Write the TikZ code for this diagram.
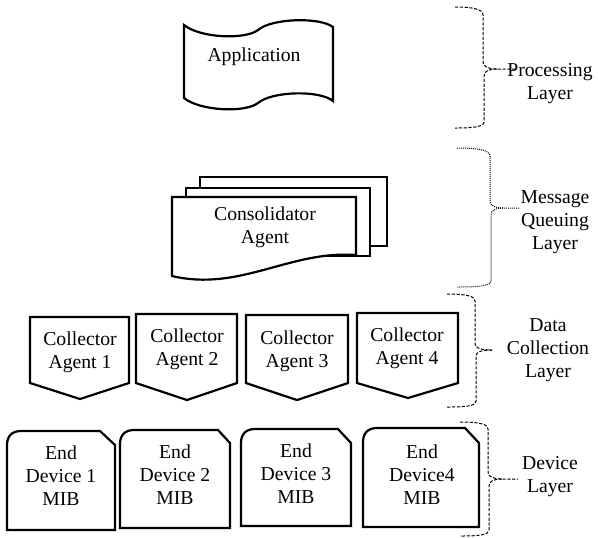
\documentclass[tikz,border=0pt]{standalone}
\usepackage{fontspec}
\setmainfont{Liberation Serif}
\tikzset{
  font={\fontsize{9.85pt}{11.5pt}\selectfont}}
\tikzset{
  shapeline/.style={draw=black, line width=1.1pt, fill=white},
  bracedash/.style={draw=black, line width=0.5pt, dash pattern=on 1.6pt off 0.8pt},
  bracedot/.style={draw=black, line width=0.5pt, dash pattern=on 0.5pt off 0.5pt},
  boxtext/.style={align=center, inner sep=0pt}}

\begin{document}
\begin{tikzpicture}[x=0.5pt, y=-0.5pt]
\useasboundingbox (0,0) rectangle (598,537);
%% Processing layer: the application as a waving tape
    \draw[shapeline] (184,25) .. controls (200,38) and (245,40) .. (258,30)
        .. controls (272,18) and (320,17) .. (333,27) -- (333,101)
        .. controls (320,90) and (272,91) .. (258,103)
        .. controls (245,113) and (200,111) .. (184,98) -- cycle;
    \node[boxtext] (app) at (254,57) {Application};
%% Message queuing layer: a stack of three documents, back one first
    \draw[shapeline] (200,177) rectangle (387,246);
    \draw[shapeline] (186,188) rectangle (370,256);
    \draw[shapeline] (172,197) -- (356,197) -- (356,255)
        .. controls (290,250) and (240,292) .. (172,276) -- cycle;
    \node[boxtext] (consolidator) at (265,227) {Consolidator\\Agent};
%% Data collection layer: off-page connectors pointing down
    \draw[shapeline] (30,317) -- (129,317) -- (129,383) -- (80,399) -- (30,383) -- cycle;
    \draw[shapeline] (136,314) -- (237,314) -- (237,383) -- (187,400) -- (136,383) -- cycle;
    \draw[shapeline] (246,315) -- (348,315) -- (348,383) -- (297,400) -- (246,383) -- cycle;
    \draw[shapeline] (357,313) -- (458,313) -- (458,383) -- (408,398) -- (357,383) -- cycle;
    \node[boxtext] (coll1) at (80,352) {Collector\\Agent 1};
    \node[boxtext] (coll2) at (187,349) {Collector\\Agent 2};
    \node[boxtext] (coll3) at (297,351) {Collector\\Agent 3};
    \node[boxtext] (coll4) at (407,348) {Collector\\Agent 4};
%% Device layer: punched cards, rounded on the left and cut on the right
    \draw[shapeline] (7,530) -- (7,445) .. controls (7,436) and (12,431) .. (21,431)
        -- (100,431) -- (115,445) -- (115,530) -- cycle;
    \draw[shapeline] (120,528) -- (120,444) .. controls (120,435) and (125,430) .. (134,430)
        -- (218,430) -- (230,443) -- (230,528) -- cycle;
    \draw[shapeline] (241,526) -- (241,443) .. controls (241,434) and (246,429) .. (255,429)
        -- (338,429) -- (351,443) -- (351,526) -- cycle;
    \draw[shapeline] (363,527) -- (363,442) .. controls (363,433) and (368,428) .. (377,428)
        -- (465,428) -- (479,443) -- (479,527) -- cycle;
    \node[boxtext] (dev1) at (61,476) {End\\Device 1\\MIB};
    \node[boxtext] (dev2) at (175,475) {End\\Device 2\\MIB};
    \node[boxtext] (dev3) at (296,474) {End\\Device 3\\MIB};
    \node[boxtext] (dev4) at (422,475) {End\\Device4\\MIB};
%% Braces that group each layer, with the layer names beside them
    \draw[bracedash] (455,7) .. controls (472,7) and (483,9) .. (483,15) -- (483,62)
        .. controls (483,67) and (489,69) .. (497,69) -- (515,69);
    \draw[bracedash] (497,69) .. controls (489,69) and (484,71) .. (484,76) -- (484,122)
        .. controls (484,127) and (472,128) .. (455,128);
    \draw[bracedot] (457,148) .. controls (478,148) and (490,150) .. (490,156) -- (490,201)
        .. controls (490,206) and (496,208) .. (503,208) -- (520,208);
    \draw[bracedot] (503,208) .. controls (496,208) and (491,210) .. (491,215) -- (491,281)
        .. controls (491,286) and (478,287) .. (457,287);
    \draw[bracedash] (447,294) .. controls (466,294) and (475,296) .. (475,301) -- (475,344)
        .. controls (475,348) and (481,350) .. (492,350);
    \draw[bracedash] (492,350) .. controls (481,350) and (476,352) .. (476,356) -- (476,401)
        .. controls (476,406) and (466,407) .. (447,407);
    \draw[bracedash] (460,422) .. controls (479,422) and (488,424) .. (488,429) -- (488,472)
        .. controls (488,477) and (494,479) .. (502,479) -- (518,479);
    \draw[bracedash] (502,479) .. controls (494,479) and (489,481) .. (489,486) -- (489,530)
        .. controls (489,535) and (479,536) .. (460,536);
    \node[boxtext] (processing) at (550,84) {Processing\\Layer};
    \node[boxtext] (queuing) at (555,222) {Message\\Queuing\\Layer};
    \node[boxtext] (collection) at (548,350) {Data\\Collection\\Layer};
    \node[boxtext] (devlayer) at (550,477) {Device\\Layer};
\end{tikzpicture}
\end{document}
